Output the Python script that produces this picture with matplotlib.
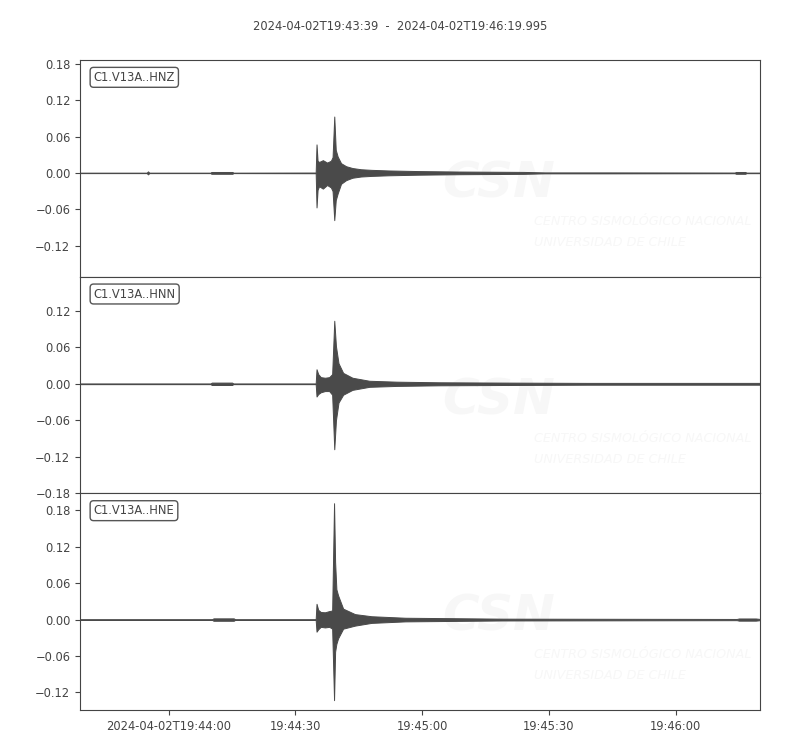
import matplotlib
matplotlib.use("Agg")
import matplotlib.pyplot as plt
from matplotlib.ticker import MultipleLocator, FuncFormatter
from datetime import datetime, timedelta

# ---- data (envelopes of the three traces) ----
start_time = "2024-04-02T19:43:39"
end_time = "2024-04-02T19:46:19.995"
duration = 160.995  # seconds

channels = ["C1.V13A..HNZ", "C1.V13A..HNN", "C1.V13A..HNE"]

hnz_t = [0, 15.8, 16.1, 16.4, 30.9, 31.1, 36.1, 36.3, 55.8, 56.0, 56.25, 56.6, 57.5, 58.5,
         59.4, 59.8, 60.2, 60.55, 61.0, 61.8, 63.0, 64.5, 66.5, 69.0, 73.0, 80.0, 90.0,
         105.0, 110.0, 125.0, 155.0, 155.3, 157.5, 157.8, 161.0]
hnz_up = [.0004, .0004, .0025, .0004, .0004, .0015, .0015, .0004, .0006, .047, .020, .018, .021,
          .017, .020, .026, .093, .038, .027, .016, .011, .008, .006, .005, .004, .003, .0022,
          .0016, .0008, .0008, .0006, .0015, .0015, .0005, .0005]
hnz_lo = [-.0004, -.0004, -.0025, -.0004, -.0004, -.0015, -.0015, -.0004, -.0006, -.057, -.028,
          -.022, -.026, -.020, -.024, -.030, -.078, -.045, -.034, -.018, -.012, -.008, -.006,
          -.005, -.004, -.003, -.0022, -.0016, -.0008, -.0008, -.0006, -.0015, -.0015, -.0005,
          -.0005]

hnn_t = [0, 30.9, 31.2, 36.0, 36.3, 55.8, 56.0, 56.4, 57.0, 58.0, 59.0, 59.7, 60.2, 60.6,
         61.2, 62.3, 64.5, 68.5, 75.0, 85.0, 100.0, 120.0, 161.0]
hnn_up = [.0006, .0006, .002, .002, .0006, .0006, .024, .016, .011, .010, .011, .016, .104, .062,
          .034, .018, .010, .005, .0035, .0025, .002, .0015, .0015]
hnn_lo = [-.0006, -.0006, -.002, -.002, -.0006, -.0006, -.021, -.017, -.014, -.012, -.012, -.018,
          -.108, -.060, -.031, -.018, -.010, -.005, -.0035, -.0025, -.002, -.0015, -.0015]

hne_t = [0, 31.3, 31.6, 36.4, 36.7, 55.8, 56.0, 56.4, 57.0, 58.0, 59.0, 59.7, 60.15, 60.4,
         60.7, 61.1, 62.3, 65.1, 69.0, 77.0, 100.0, 155.5, 156.0, 160.0, 161.0]
hne_up = [.0006, .0006, .002, .002, .0006, .0006, .026, .016, .0125, .012, .014, .015, .192, .095,
          .050, .040, .018, .009, .0055, .003, .0015, .001, .0018, .0018, .001]
hne_lo = [-.0006, -.0006, -.002, -.002, -.0006, -.0006, -.020, -.016, -.012, -.013, -.012, -.015,
          -.133, -.053, -.040, -.031, -.015, -.010, -.0055, -.003, -.0015, -.001, -.0018,
          -.0018, -.001]

traces = [(hnz_t, hnz_up, hnz_lo), (hnn_t, hnn_up, hnn_lo), (hne_t, hne_up, hne_lo)]

# ---- style ----
plt.rcParams["font.family"] = ["DejaVu Sans"]
fs = 8.3
txt_col = "#444444"
line_col = "#4a4a4a"
spine_col = "#444444"
wm_col = "#f7f7f7"

fig = plt.figure(figsize=(8, 7.5), dpi=100)
axes = fig.subplots(3, 1, sharex=True)
fig.subplots_adjust(left=0.1, right=0.95, top=0.92, bottom=0.0533, hspace=0)

# common y-range (same scale for all traces, centred on each trace)
half = max((max(u) - min(l)) / 2 for _, u, l in traces) * 1.1

t0 = datetime.strptime(start_time, "%Y-%m-%dT%H:%M:%S")

def fmt_time(x, pos):
    d = t0 + timedelta(seconds=round(x))
    if x - 30 < 0:
        return d.strftime("%Y-%m-%dT%H:%M:%S")
    return d.strftime("%H:%M:%S")

for i, (ax, (t, up, lo), name) in enumerate(zip(axes, traces, channels)):
    # faint watermark
    ax.text(0.615, 0.43, "CSN", transform=ax.transAxes, fontsize=36, fontweight="bold",
            fontstyle="italic", color=wm_col, ha="center", va="center", zorder=0,
            clip_on=True)
    ax.text(0.667, 0.255, "CENTRO SISMOLÓGICO NACIONAL", transform=ax.transAxes,
            fontsize=9.2, fontstyle="italic", color=wm_col, ha="left", va="center",
            zorder=0, clip_on=True)
    ax.text(0.667, 0.158, "UNIVERSIDAD DE CHILE", transform=ax.transAxes,
            fontsize=9.2, fontstyle="italic", color=wm_col, ha="left", va="center",
            zorder=0, clip_on=True)

    ax.fill_between(t, lo, up, color=line_col, linewidth=0.7, zorder=2)
    c = (max(up) + min(lo)) / 2
    ax.set_ylim(c - half, c + half)
    ax.set_xlim(0, duration)
    ax.yaxis.set_major_locator(MultipleLocator(0.06))
    ax.tick_params(axis="both", labelsize=fs, colors=txt_col, labelcolor=txt_col)
    for s in ax.spines.values():
        s.set_color(spine_col)
    ax.text(0.02, 0.95, name, transform=ax.transAxes, fontsize=fs, color=txt_col,
            ha="left", va="top", zorder=5,
            bbox=dict(boxstyle="round,pad=0.3", fc="white", ec="#555555", lw=1))
    if i < 2:
        ax.tick_params(axis="x", bottom=False, labelbottom=False)

axes[-1].xaxis.set_major_locator(MultipleLocator(30, offset=21))
axes[-1].xaxis.set_major_formatter(FuncFormatter(fmt_time))

fig.suptitle(f"{start_time}  -  {end_time}", y=0.973, fontsize=fs, color=txt_col)

fig.savefig("out.png", dpi=100)
